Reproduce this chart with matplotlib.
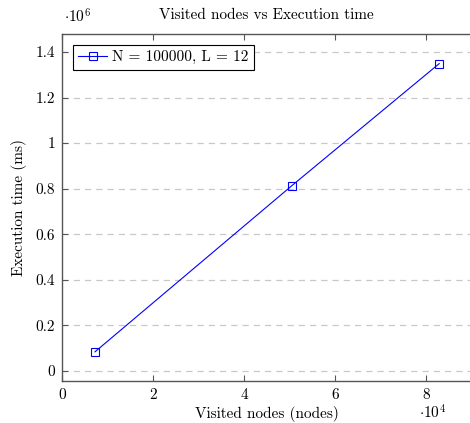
import matplotlib.pyplot as plt
from matplotlib.ticker import FuncFormatter

# Data
visited_nodes = [7250, 50500, 82900]
exec_time_ms = [84000, 813000, 1349000]
series_label = 'N = 100000, L = 12'

plt.rcParams['font.family'] = 'cmr10'
plt.rcParams['mathtext.fontset'] = 'cm'
plt.rcParams['axes.formatter.use_mathtext'] = True

FS = 11

fig = plt.figure(figsize=(4.7, 4.23), dpi=100)
ax = fig.add_axes([62 / 470, 42 / 423, 409.5 / 470, 347 / 423])

ax.plot(visited_nodes, exec_time_ms, color='blue', linewidth=0.8,
        marker='s', markersize=5.5, markerfacecolor='none',
        markeredgecolor='blue', markeredgewidth=0.8, label=series_label)

ax.set_xlim(0, 90000)
ax.set_ylim(-0.044e6, 1.479e6)
ax.set_xticks([0, 20000, 40000, 60000, 80000])
ax.set_yticks([0, 0.2e6, 0.4e6, 0.6e6, 0.8e6, 1.0e6, 1.2e6, 1.4e6])
ax.xaxis.set_major_formatter(FuncFormatter(lambda v, p: f'{v / 1e4:g}'))
ax.yaxis.set_major_formatter(FuncFormatter(lambda v, p: f'{v / 1e6:g}'))

ax.tick_params(direction='in', length=4, width=0.8, color='#555555',
               labelsize=FS, top=True, right=False)
ax.tick_params(axis='x', pad=5)
ax.tick_params(axis='y', pad=5)
for side in ['left', 'bottom', 'top']:
    ax.spines[side].set_color('#555555')
    ax.spines[side].set_linewidth(1.0)
ax.spines['right'].set_visible(False)

ax.grid(axis='y', linestyle=(0, (5, 4)), color='#c8c8c8', linewidth=0.9)
ax.set_axisbelow(True)

ax.set_title('Visited nodes vs Execution time', fontsize=FS, pad=11)
ax.set_xlabel('Visited nodes (nodes)', fontsize=FS, labelpad=3)
ax.set_ylabel('Execution time (ms)', fontsize=FS, labelpad=6)

fig.text(64 / 470, 1 - 17 / 423, r'$\cdot10^{6}$', fontsize=FS, va='center')
fig.text(419 / 470, 1 - 413 / 423, r'$\cdot10^{4}$', fontsize=FS, va='center')

leg = ax.legend(loc='upper left', fontsize=FS, fancybox=False, framealpha=1,
                edgecolor='black', borderpad=0.35, handlelength=1.9,
                handletextpad=0.3, borderaxespad=0,
                bbox_to_anchor=(11 / 409.5, 1 - 11 / 347))
leg.get_frame().set_linewidth(0.8)

fig.savefig('out.png', dpi=100)
